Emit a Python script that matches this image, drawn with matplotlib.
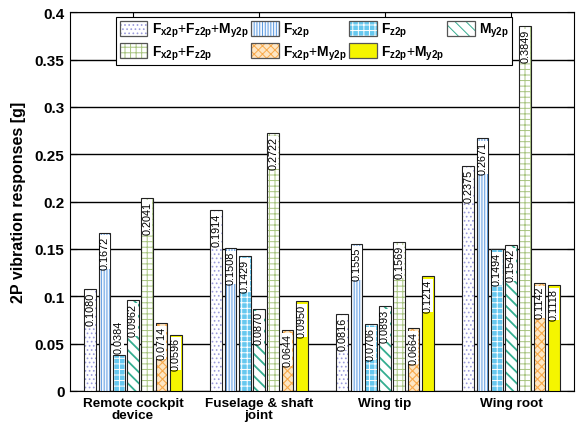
import matplotlib
matplotlib.use("Agg")
import matplotlib.pyplot as plt
import numpy as np
from matplotlib.patches import Patch
from matplotlib import font_manager

names = {f.name for f in font_manager.fontManager.ttflist}
label_family = 'Liberation Sans Narrow' if 'Liberation Sans Narrow' in names else 'Liberation Sans'

plt.rcParams['font.family'] = ['Liberation Sans', 'DejaVu Sans']
plt.rcParams['mathtext.fontset'] = 'custom'
plt.rcParams['mathtext.rm'] = 'Liberation Sans:bold'
plt.rcParams['mathtext.it'] = 'Liberation Sans:bold'
plt.rcParams['mathtext.bf'] = 'Liberation Sans:bold'
plt.rcParams['hatch.linewidth'] = 0.7

categories = ["Remote cockpit\ndevice", "Fuselage & shaft\njoint", "Wing tip", "Wing root"]
series_names = [r"$F_{x2p}$+$F_{z2p}$+$M_{y2p}$", r"$F_{x2p}$", r"$F_{z2p}$", r"$M_{y2p}$",
                r"$F_{x2p}$+$F_{z2p}$", r"$F_{x2p}$+$M_{y2p}$", r"$F_{z2p}$+$M_{y2p}$"]
fxfzmy = [0.1080, 0.1914, 0.0816, 0.2375]
fx = [0.1672, 0.1508, 0.1555, 0.2671]
fz = [0.0384, 0.1429, 0.0706, 0.1494]
my = [0.0962, 0.0870, 0.0893, 0.1542]
fxfz = [0.2041, 0.2722, 0.1569, 0.3849]
fxmy = [0.0714, 0.0644, 0.0664, 0.1142]
fzmy = [0.0596, 0.0950, 0.1214, 0.1118]
series = [fxfzmy, fx, fz, my, fxfz, fxmy, fzmy]
yticks = [0, 0.05, 0.1, 0.15, 0.2, 0.25, 0.3, 0.35, 0.4]
ytick_labels = ["0", "0.05", "0.1", "0.15", "0.2", "0.25", "0.3", "0.35", "0.4"]

# (face, hatch, hatch color, hatch linewidth)
styles = [
    ("white", "....", "#9c9cdc", 0.7),
    ("#f4f8fe", "||||||", "#5b9be0", 0.7),
    ("#66c8ef", "+++", "white", 0.7),
    ("white", "\\\\\\", "#35ad90", 1.3),
    ("white", "+++", "#a8c480", 0.7),
    ("#fde6c4", "xxxx", "#f8aa4c", 0.8),
    ("#f5f500", "", "none", 0.7),
]

fig = plt.figure(figsize=(5.81, 4.31), dpi=100)
ax = fig.add_axes([0.1205, 0.0905, 0.8675, 0.879])


def set_hlw(artists, lw):
    for a in artists:
        if hasattr(a, 'set_hatch_linewidth'):
            try:
                a.set_hatch_linewidth(lw)
            except Exception:
                pass


x = np.arange(1, len(categories) + 1)
slot = 0.113
width = 0.094
handles = []
for i, (vals, (fc, h, hc, hlw)) in enumerate(zip(series, styles)):
    pos = x + (i - 3) * slot
    ax.bar(pos, vals, width, color=fc, edgecolor='none', zorder=3)
    if h:
        bars = ax.bar(pos, vals, width, fill=False, hatch=h, edgecolor=hc, linewidth=0, zorder=3)
        set_hlw(bars, hlw)
    ax.bar(pos, vals, width, fill=False, edgecolor='#222222', linewidth=0.8, zorder=4)
    p1 = Patch(facecolor=fc, edgecolor='none')
    p2 = Patch(fill=False, hatch=h, edgecolor=hc if h else 'none', linewidth=0)
    set_hlw([p2], hlw)
    p3 = Patch(fill=False, edgecolor='#555555', linewidth=0.9)
    handles.append((p1, p2, p3))
    for xp, v in zip(pos, vals):
        if v < 0.045:
            ax.annotate(f"{v:.4f}", (xp, v), xytext=(0, 1), textcoords='offset points',
                        rotation=90, ha='center', va='bottom', fontsize=7.8, zorder=5,
                        family=label_family,
                        bbox=dict(boxstyle='square,pad=0.0', fc='white', ec='none'))
        else:
            ax.annotate(f"{v:.4f}", (xp, v), xytext=(0, -2), textcoords='offset points',
                        rotation=90, ha='center', va='top', fontsize=7.8, zorder=5,
                        family=label_family,
                        bbox=dict(boxstyle='square,pad=0.0', fc='white', ec='none'))

ax.set_xlim(0.5, 4.5)
ax.set_ylim(0, 0.4)
ax.set_yticks(yticks)
ax.set_yticklabels(ytick_labels, fontsize=11, fontweight='bold')
ax.set_xticks(x)
ax.set_xticklabels(categories, fontsize=9.7, fontweight='bold', linespacing=1.0)
ax.set_ylabel("2P vibration responses [g]", fontsize=11.5, fontweight='bold', labelpad=6)
ax.yaxis.grid(True, color='black', linewidth=1.0, zorder=1)
ax.set_axisbelow(True)
ax.tick_params(direction='in', top=True, right=True, length=5, width=0.8, pad=4)
for s in ax.spines.values():
    s.set_linewidth(0.8)

order = [0, 4, 1, 5, 2, 6, 3]
leg = ax.legend([handles[i] for i in order], [series_names[i] for i in order],
                ncol=4, loc='upper left', bbox_to_anchor=(0.2, 0.958),
                bbox_transform=fig.transFigure, fontsize=10, frameon=True,
                fancybox=False, edgecolor='black', framealpha=1,
                handlelength=2.0, handleheight=1.35, handletextpad=0.3,
                columnspacing=0.2, labelspacing=0.25, borderpad=0.25,
                borderaxespad=0)
leg.get_frame().set_linewidth(0.8)
leg.set_zorder(10)

fig.savefig("out.png", dpi=100)
